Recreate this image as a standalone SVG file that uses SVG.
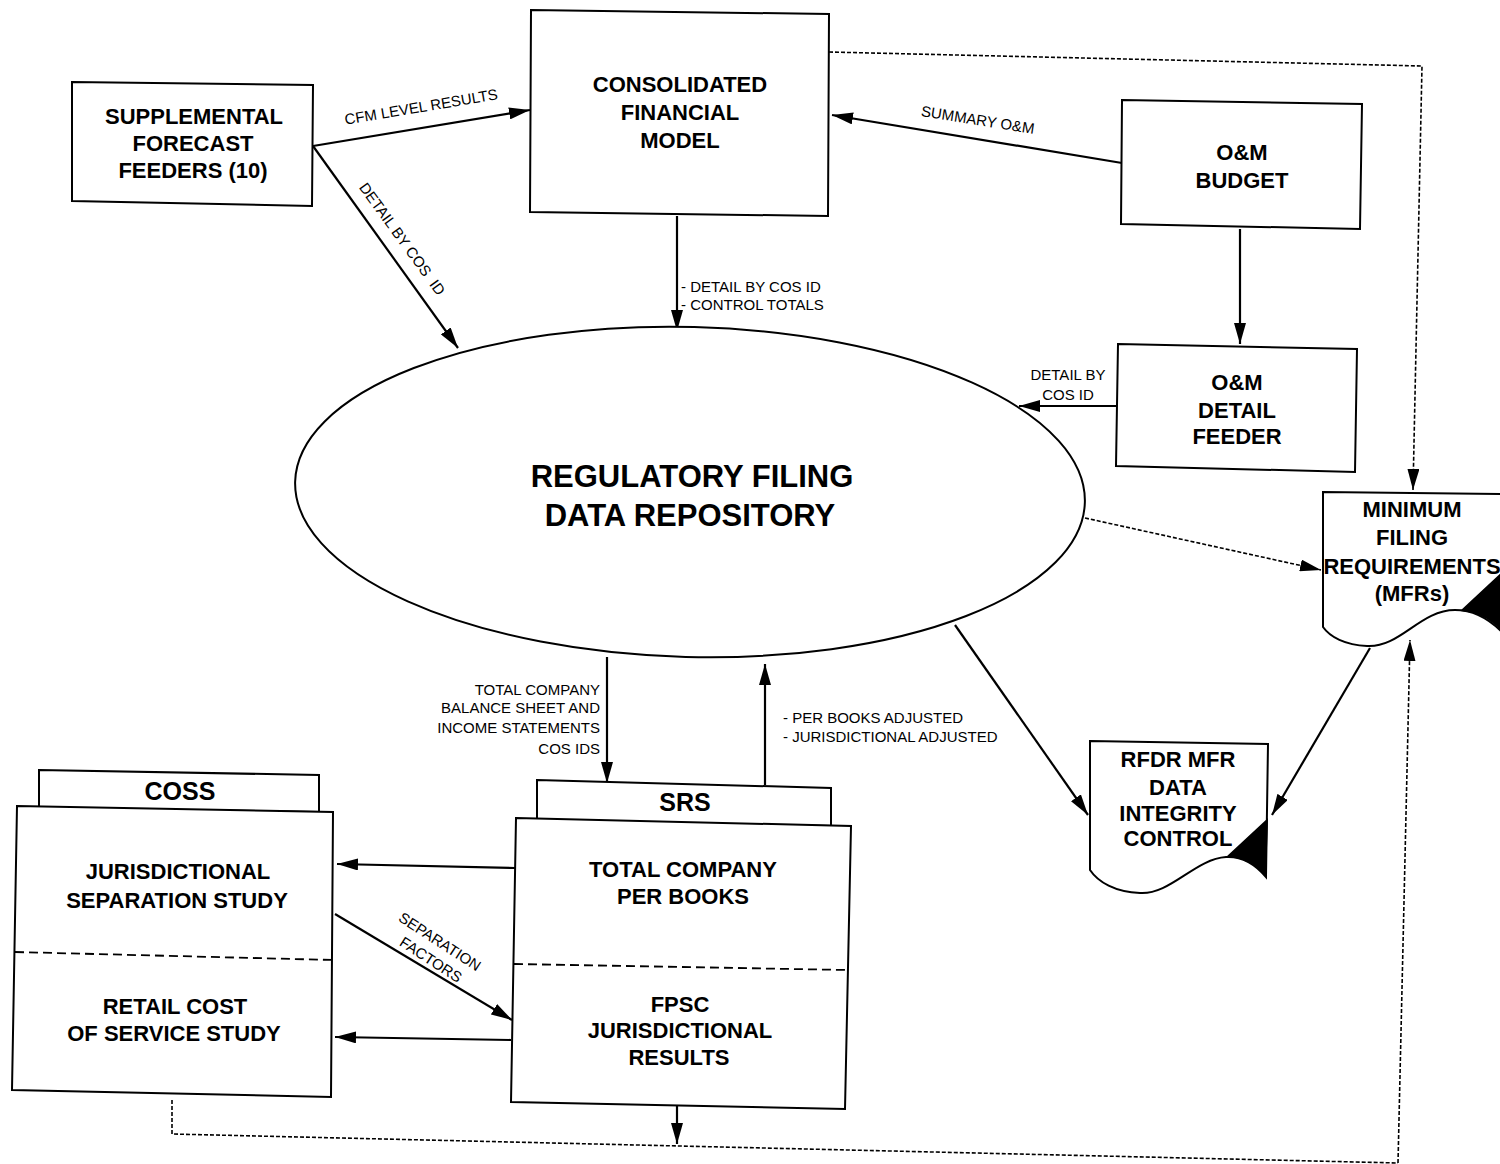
<svg xmlns="http://www.w3.org/2000/svg" width="1500" height="1164" viewBox="0 0 1500 1164">
<style>
  .box { fill: #fff; stroke: #000; stroke-width: 2; }
  .div { fill: none; stroke: #000; stroke-width: 1.8; stroke-dasharray: 9 5; }
  .t { font-family: "Liberation Sans", Arial, sans-serif; font-weight: bold; font-size: 22px; text-anchor: middle; fill: #000; }
  .big { font-size: 31px; }
  .tab { font-size: 25px; }
  .lbl { font-family: "Liberation Sans", Arial, sans-serif; font-size: 15px; fill: #000; }
  .c { stroke: #000; stroke-width: 2.2; fill: none; marker-end: url(#ah); }
  .d { stroke: #000; stroke-width: 1.6; fill: none; stroke-dasharray: 4 2; }
  .da { stroke: #000; stroke-width: 1.6; fill: none; stroke-dasharray: 4 2; marker-end: url(#ah); }
</style>
<defs>
  <marker id="ah" markerUnits="userSpaceOnUse" markerWidth="24" markerHeight="12" refX="21" refY="6" orient="auto">
    <path d="M0,0 L21,6 L0,12 Z" fill="#000"/>
  </marker>
</defs>
<rect width="1500" height="1164" fill="#fff"/>

<g id="connectors">
  <line class="c" x1="313" y1="146" x2="530" y2="110"/>
  <line class="c" x1="313" y1="146" x2="458" y2="348"/>
  <line class="c" x1="1122" y1="163" x2="832" y2="115"/>
  <line class="c" x1="677" y1="216" x2="677" y2="331"/>
  <line class="c" x1="1240" y1="229" x2="1240" y2="344"/>
  <line class="c" x1="1116" y1="406" x2="1019" y2="406"/>
  <polyline class="da" points="829,52 1422,66 1413,490"/>
  <line class="da" x1="1085" y1="518" x2="1321" y2="570"/>
  <line class="c" x1="955" y1="625" x2="1088" y2="815"/>
  <line class="c" x1="1370" y1="648" x2="1272" y2="815"/>
  <line class="c" x1="607" y1="657" x2="607" y2="783"/>
  <line class="c" x1="765" y1="785" x2="765" y2="664"/>
  <line class="c" x1="515" y1="868" x2="337" y2="864"/>
  <line class="c" x1="511" y1="1040" x2="335" y2="1037"/>
  <line class="c" x1="335" y1="914" x2="512" y2="1020"/>
  <line class="c" x1="677" y1="1105" x2="677" y2="1144"/>
  <polyline class="d" points="172,1100 172,1134 1398,1163"/>
  <polyline class="da" points="1398,1163 1410,640"/>

  <text class="lbl" transform="translate(422,112) rotate(-9.5)" text-anchor="middle">CFM LEVEL RESULTS</text>
  <text class="lbl" transform="translate(398,242) rotate(54)" text-anchor="middle" xml:space="preserve">DETAIL BY COS  ID</text>
  <text class="lbl" transform="translate(977,125) rotate(9)" text-anchor="middle">SUMMARY O&amp;M</text>
  <text class="lbl" x="681" y="292">- DETAIL BY COS ID</text>
  <text class="lbl" x="681" y="310">- CONTROL TOTALS</text>
  <text class="lbl" x="1068" y="380" text-anchor="middle">DETAIL BY</text>
  <text class="lbl" x="1068" y="400" text-anchor="middle">COS ID</text>
  <text class="lbl" x="600" y="695" text-anchor="end">TOTAL COMPANY</text>
  <text class="lbl" x="600" y="713" text-anchor="end">BALANCE SHEET AND</text>
  <text class="lbl" x="600" y="733" text-anchor="end">INCOME STATEMENTS</text>
  <text class="lbl" x="600" y="754" text-anchor="end">COS IDS</text>
  <text class="lbl" x="783" y="723">- PER BOOKS ADJUSTED</text>
  <text class="lbl" x="783" y="742">- JURISDICTIONAL ADJUSTED</text>
  <text class="lbl" transform="translate(437,946) rotate(33)" text-anchor="middle">SEPARATION</text>
  <text class="lbl" transform="translate(428,964) rotate(33)" text-anchor="middle">FACTORS</text>
</g>

<g id="supplemental">
  <polygon class="box" points="72,82 313,85 312,206 72,201"/>
  <text class="t" x="194" y="124">SUPPLEMENTAL</text>
  <text class="t" x="193" y="151">FORECAST</text>
  <text class="t" x="193" y="178">FEEDERS (10)</text>
</g>

<g id="cfm">
  <polygon class="box" points="531,10 829,14 828,216 530,212"/>
  <text class="t" x="680" y="92">CONSOLIDATED</text>
  <text class="t" x="680" y="120">FINANCIAL</text>
  <text class="t" x="680" y="148">MODEL</text>
</g>

<g id="om-budget">
  <polygon class="box" points="1122,100 1362,104 1360,229 1121,224"/>
  <text class="t" x="1242" y="160">O&amp;M</text>
  <text class="t" x="1242" y="188">BUDGET</text>
</g>

<g id="om-detail">
  <polygon class="box" points="1118,344 1357,349 1355,472 1116,466"/>
  <text class="t" x="1237" y="390">O&amp;M</text>
  <text class="t" x="1237" y="418">DETAIL</text>
  <text class="t" x="1237" y="444">FEEDER</text>
</g>

<g id="repository">
  <ellipse class="box" cx="690" cy="492" rx="395" ry="165" transform="rotate(1.5 690 492)"/>
  <text class="t big" x="692" y="487">REGULATORY FILING</text>
  <text class="t big" x="690" y="526">DATA REPOSITORY</text>
</g>

<g id="mfr">
  <path class="box" d="M1323,492 L1502,494 L1502,632 C1490,620 1475,610 1455,610 C1420,610 1400,648 1367,646 C1345,645 1330,637 1323,627 Z"/>
  <path d="M1460,611 L1502,572 L1502,632 C1492,620 1478,612 1460,611 Z" fill="#000"/>
  <text class="t" x="1412" y="517">MINIMUM</text>
  <text class="t" x="1412" y="545">FILING</text>
  <text class="t" x="1412" y="574">REQUIREMENTS</text>
  <text class="t" x="1412" y="601">(MFRs)</text>
</g>

<g id="rfdr">
  <path class="box" d="M1090,741 L1268,744 L1266,877 C1255,864 1242,856 1226,857 C1195,859 1170,895 1140,893 C1115,892 1098,882 1090,870 Z"/>
  <path d="M1226,857 L1268,818 L1266,877 C1255,864 1242,857 1226,857 Z" fill="#000"/>
  <text class="t" x="1178" y="767">RFDR MFR</text>
  <text class="t" x="1178" y="795">DATA</text>
  <text class="t" x="1178" y="821">INTEGRITY</text>
  <text class="t" x="1178" y="846">CONTROL</text>
</g>

<g id="coss">
  <polygon class="box" points="39,770 319,775 319,812 39,808"/>
  <text class="t tab" x="180" y="800">COSS</text>
  <polygon class="box" points="17,806 333,812 331,1097 12,1090"/>
  <line class="div" x1="15" y1="952" x2="333" y2="960"/>
  <text class="t" x="178" y="879">JURISDICTIONAL</text>
  <text class="t" x="177" y="908">SEPARATION STUDY</text>
  <text class="t" x="175" y="1014">RETAIL COST</text>
  <text class="t" x="174" y="1041">OF SERVICE STUDY</text>
</g>

<g id="srs">
  <polygon class="box" points="537,780 831,788 831,826 537,822"/>
  <text class="t tab" x="685" y="811">SRS</text>
  <polygon class="box" points="516,818 851,826 845,1109 511,1102"/>
  <line class="div" x1="514" y1="964" x2="848" y2="970"/>
  <text class="t" x="683" y="877">TOTAL COMPANY</text>
  <text class="t" x="683" y="904">PER BOOKS</text>
  <text class="t" x="680" y="1012">FPSC</text>
  <text class="t" x="680" y="1038">JURISDICTIONAL</text>
  <text class="t" x="679" y="1065">RESULTS</text>
</g>
</svg>
